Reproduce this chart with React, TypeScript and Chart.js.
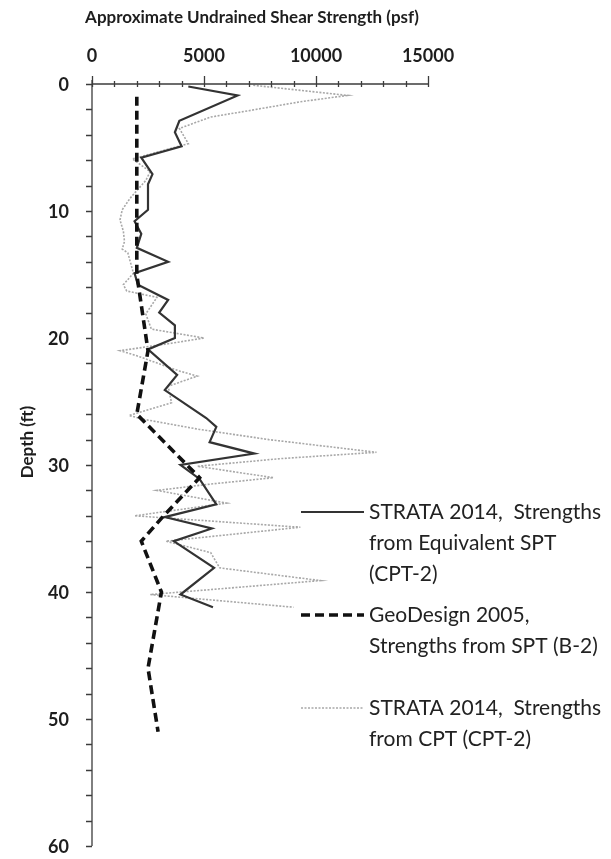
import React, { useEffect, useRef } from "react";
import { Chart, registerables } from "chart.js";

Chart.register(...registerables);

const FONT = "Lato, 'Open Sans', sans-serif";

// axis ranges / ticks
const xRange = [0, 15000];
const yRange = [0, 60];
const xMajorStep = 5000;
const xMinorStep = 1000;
const yMajorStep = 10;
const yMinorStep = 2;

const xTitle = "Approximate Undrained Shear Strength (psf)";
const yTitle = "Depth (ft)";

// STRATA 2014, strengths from equivalent SPT (CPT-2)
const sptEqDepth = [0.2, 0.9, 2.9, 3.8, 4.9, 5.8, 7.1, 7.9, 9.9, 10.8, 11.8, 12.9, 14.0, 14.9, 15.8, 17.0, 18.0, 19.0, 20.0, 20.9, 22.9, 24.1, 26.3, 27.0, 28.2, 29.1, 30.0, 31.1, 33.1, 34.1, 35.0, 36.0, 38.1, 40.2, 41.2];
const sptEqStrength = [4300, 6500, 3900, 3700, 4000, 2200, 2700, 2500, 2500, 1900, 2200, 2000, 3400, 1900, 2050, 3400, 3000, 3700, 3700, 2500, 3800, 3250, 5100, 5550, 5250, 7250, 3950, 4800, 5550, 3250, 5350, 3650, 5450, 3950, 5400];

// GeoDesign 2005, strengths from SPT (B-2)
const geoDepth = [1, 15, 21, 26, 31, 34, 36, 40, 46, 51];
const geoStrength = [2000, 2000, 2500, 2000, 4800, 3200, 2200, 3100, 2500, 2950];

// STRATA 2014, strengths from CPT (CPT-2)
const cptDepth = [0.1, 0.9, 1.4, 2.1, 2.6, 3.5, 4.7, 5.9, 6.9, 7.6, 9.0, 9.9, 10.7, 11.6, 12.4, 13.0, 13.3, 14.9, 15.8, 16.3, 16.8, 18.1, 19.3, 20.0, 20.4, 21.0, 21.4, 22.6, 23.0, 23.8, 25.1, 26.1, 26.4, 27.2, 28.0, 29.0, 29.5, 30.1, 31.0, 31.5, 32.0, 33.0, 34.0, 34.9, 36.0, 36.9, 38.1, 39.1, 40.2, 41.2];
const cptStrength = [7200, 11400, 9300, 7000, 5300, 3900, 4300, 1800, 2600, 2400, 1700, 1350, 1250, 1400, 1450, 1350, 1600, 1850, 1400, 1550, 2900, 2400, 2650, 5000, 3600, 1250, 2000, 3900, 4700, 3400, 3550, 1650, 2300, 4800, 7900, 12700, 8400, 4700, 8100, 5300, 2900, 6000, 1900, 9300, 3300, 5300, 5700, 10200, 2600, 9000];

const legendEntries = [
  ["STRATA 2014,  Strengths", "from Equivalent SPT", "(CPT-2)"],
  ["GeoDesign 2005,", "Strengths from SPT (B-2)"],
  ["STRATA 2014,  Strengths", "from CPT (CPT-2)"],
];

const STYLE_SPT = { color: "#333333", width: 2.2, dash: [] as number[] };
const STYLE_GEO = { color: "#111111", width: 3.6, dash: [9, 5] };
const STYLE_CPT = { color: "#a8a8a8", width: 1.6, dash: [2, 1.5] };

export default function App() {
  const ref = useRef<HTMLCanvasElement>(null);

  useEffect(() => {
    document.body.style.margin = "0";
    const canvas = ref.current!;
    const toPts = (xs: number[], ys: number[]) => xs.map((v, i) => ({ x: v, y: ys[i] }));

    const decor = {
      id: "decor",
      afterDraw(chart: any) {
        const ctx = chart.ctx as CanvasRenderingContext2D;
        const xs = chart.scales.x;
        const ys = chart.scales.y;
        const ca = chart.chartArea;
        ctx.save();
        // axes and ticks
        ctx.strokeStyle = "#3c3c3c";
        ctx.lineWidth = 1.3;
        ctx.setLineDash([]);
        ctx.beginPath();
        ctx.moveTo(ca.left, ca.top - 4);
        ctx.lineTo(ca.left, ca.bottom);
        ctx.moveTo(ca.left, ca.top);
        ctx.lineTo(ca.right, ca.top);
        for (let v = xRange[0]; v <= xRange[1]; v += xMinorStep) {
          const px = Math.round(xs.getPixelForValue(v)) + 0.5;
          const major = v % xMajorStep === 0;
          ctx.moveTo(px, ca.top - (major ? 8 : 3));
          ctx.lineTo(px, ca.top + 3);
        }
        for (let d = yRange[0]; d <= yRange[1]; d += yMinorStep) {
          const py = Math.round(ys.getPixelForValue(d)) + 0.5;
          ctx.moveTo(ca.left - 6, py);
          ctx.lineTo(ca.left, py);
        }
        ctx.stroke();

        // tick labels
        ctx.fillStyle = "#1e1e1e";
        ctx.textBaseline = "middle";
        ctx.textAlign = "center";
        ctx.font = `bold 18px ${FONT}`;
        for (let v = xRange[0]; v <= xRange[1]; v += xMajorStep) {
          ctx.fillText(String(v), xs.getPixelForValue(v), ca.top - 28);
        }
        ctx.textAlign = "right";
        ctx.font = `bold 18px ${FONT}`;
        for (let d = yRange[0]; d <= yRange[1]; d += yMajorStep) {
          ctx.fillText(String(d), ca.left - 23, ys.getPixelForValue(d) + 1);
        }

        // titles
        ctx.font = `bold 17px ${FONT}`;
        ctx.textAlign = "center";
        ctx.fillText(xTitle, 252, 18);
        ctx.save();
        ctx.translate(28, 442);
        ctx.rotate(-Math.PI / 2);
        ctx.font = `bold 17px ${FONT}`;
        ctx.fillText(yTitle, 0, 0);
        ctx.restore();

        // legend
        const styles = [STYLE_SPT, STYLE_GEO, STYLE_CPT];
        const firstLines = [512, 615, 708];
        const lineGap = 31;
        ctx.font = `21px ${FONT}`;
        ctx.textAlign = "left";
        legendEntries.forEach((lines, i) => {
          const st = styles[i];
          const y0 = firstLines[i];
          ctx.strokeStyle = st.color;
          ctx.lineWidth = st.width;
          ctx.setLineDash(st.dash);
          ctx.beginPath();
          ctx.moveTo(301, y0);
          ctx.lineTo(364, y0);
          ctx.stroke();
          ctx.setLineDash([]);
          ctx.fillStyle = "#222222";
          lines.forEach((t, j) => ctx.fillText(t, 369, y0 + j * lineGap));
        });
        ctx.restore();
      },
    };

    const chart = new Chart(canvas, {
      type: "scatter",
      data: {
        datasets: [
          {
            label: legendEntries[1].join(" "),
            data: toPts(geoStrength, geoDepth),
            showLine: true,
            borderColor: STYLE_GEO.color,
            borderWidth: STYLE_GEO.width,
            borderDash: STYLE_GEO.dash,
            pointRadius: 0,
            order: 1,
          },
          {
            label: legendEntries[0].join(" "),
            data: toPts(sptEqStrength, sptEqDepth),
            showLine: true,
            borderColor: STYLE_SPT.color,
            borderWidth: STYLE_SPT.width,
            pointRadius: 0,
            order: 2,
          },
          {
            label: legendEntries[2].join(" "),
            data: toPts(cptStrength, cptDepth),
            showLine: true,
            borderColor: STYLE_CPT.color,
            borderWidth: STYLE_CPT.width,
            borderDash: STYLE_CPT.dash,
            pointRadius: 0,
            order: 3,
          },
        ],
      },
      options: {
        animation: false,
        responsive: false,
        maintainAspectRatio: false,
        layout: { padding: { left: 0, top: 0, right: 183, bottom: 13 } },
        plugins: { legend: { display: false }, tooltip: { enabled: false } },
        scales: {
          x: {
            type: "linear",
            position: "top",
            min: xRange[0],
            max: xRange[1],
            grid: { display: false },
            border: { display: false },
            ticks: { display: false, stepSize: xMajorStep },
            afterFit: (s: any) => {
              s.height = 84;
            },
          },
          y: {
            type: "linear",
            reverse: true,
            min: yRange[0],
            max: yRange[1],
            grid: { display: false },
            border: { display: false },
            ticks: { display: false, stepSize: yMajorStep },
            afterFit: (s: any) => {
              s.width = 92;
            },
          },
        },
      },
      plugins: [decor],
    });
    return () => chart.destroy();
  }, []);

  return <canvas ref={ref} width={611} height={859} style={{ display: "block" }} />;
}
